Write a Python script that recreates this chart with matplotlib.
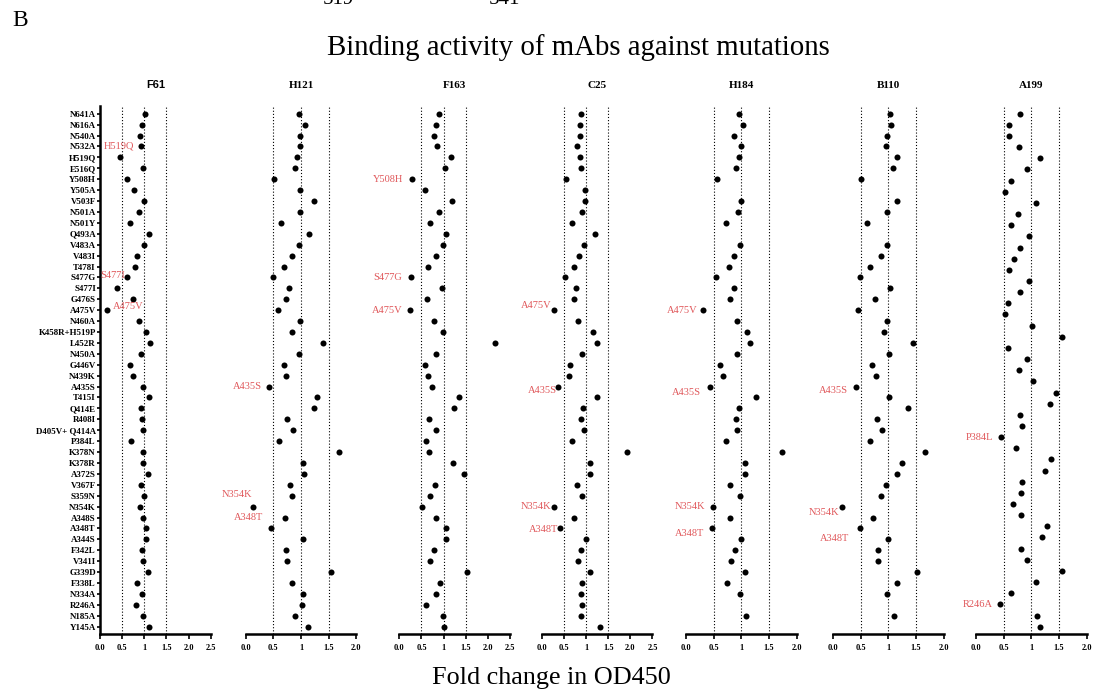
import numpy as np
import matplotlib
matplotlib.use("Agg")
import matplotlib.pyplot as plt

nan = np.nan

mutations = ["N641A", "N616A", "N540A", "N532A", "H519Q", "E516Q", "Y508H", "Y505A",
             "V503F", "N501A", "N501Y", "Q493A", "V483A", "V483I", "T478I", "S477G",
             "S477I", "G476S", "A475V", "N460A", "K458R+H519P", "L452R", "N450A", "G446V",
             "N439K", "A435S", "T415I", "Q414E", "R408I", "D405V+ Q414A", "P384L", "K378N",
             "K378R", "A372S", "V367F", "S359N", "N354K", "A348S", "A348T", "A344S",
             "F342L", "V341I", "G339D", "F338L", "N334A", "R246A", "N185A", "Y145A"]

# A199 was tested on one mutation fewer (evenly spaced on its own axis)
mutations_a199 = [m for m in mutations if m != "Y505A"]

f61 = [1.015, 0.955, 0.91, 0.925, 0.45, 0.96, 0.62, 0.77, 0.99, 0.87, 0.67, 1.10,
       0.985, 0.84, 0.80, 0.61, 0.38, 0.75, 0.16, 0.89, 1.05, 1.135, 0.92, 0.68,
       0.745, 0.98, 1.11, 0.925, 0.955, 0.98, 0.71, 0.96, 0.98, 1.075, 0.93, 1.0,
       0.91, 0.96, 1.04, 1.04, 0.94, 0.98, 1.09, 0.84, 0.95, 0.81, 0.98, 1.10]
h121 = [0.97, 1.08, 0.98, 0.99, 0.92, 0.89, 0.51, 0.99, 1.23, 0.99, 0.64, 1.14,
        0.97, 0.83, 0.69, 0.49, 0.78, 0.72, 0.58, 0.99, 0.83, 1.40, 0.96, 0.69,
        0.72, 0.42, 1.28, 1.24, 0.75, 0.86, 0.61, 1.68, 1.03, 1.06, 0.80, 0.83,
        0.14, 0.71, 0.45, 1.03, 0.73, 0.75, 1.55, 0.84, 1.04, 1.02, 0.89, 1.13]
f163 = [0.90, 0.84, 0.79, 0.85, 1.16, 1.04, 0.28, 0.58, 1.18, 0.89, 0.70, 1.05,
        0.98, 0.82, 0.64, 0.26, 0.97, 0.62, 0.24, 0.78, 0.99, 2.16, 0.82, 0.58,
        0.64, 0.73, 1.34, 1.24, 0.67, 0.84, 0.60, 0.67, 1.22, 1.45, 0.80, 0.70,
        0.52, 0.82, 1.05, 1.06, 0.78, 0.70, 1.52, 0.93, 0.84, 0.61, 0.98, 1.00]
c25 = [0.88, 0.86, 0.87, 0.80, 0.87, 0.89, 0.55, 0.97, 0.98, 0.91, 0.68, 1.20,
       0.95, 0.85, 0.73, 0.53, 0.77, 0.74, 0.27, 0.81, 1.16, 1.25, 0.90, 0.65,
       0.62, 0.37, 1.25, 0.94, 0.88, 0.95, 0.69, 1.92, 1.10, 1.10, 0.80, 0.92,
       0.27, 0.73, 0.42, 1.01, 0.88, 0.81, 1.09, 0.92, 0.89, 0.90, 0.89, 1.32]
h184 = [0.96, 1.03, 0.87, 0.99, 0.96, 0.91, 0.56, nan, 0.99, 0.94, 0.73, nan,
        0.97, 0.87, 0.77, 0.54, 0.86, 0.79, 0.31, 0.93, 1.11, 1.15, 0.93, 0.62,
        0.66, 0.44, 1.27, 0.95, 0.91, 0.93, 0.72, 1.73, 1.06, 1.06, 0.79, 0.97,
        0.48, 0.80, 0.47, 0.99, 0.89, 0.81, 1.06, 0.74, 0.97, nan, 1.08, nan]
b110 = [1.03, 1.05, 0.97, 0.96, 1.16, 1.08, 0.50, nan, 1.16, 0.98, 0.62, nan,
        0.98, 0.86, 0.67, 0.49, 1.03, 0.76, 0.45, 0.97, 0.92, 1.45, 1.02, 0.71,
        0.78, 0.41, 1.02, 1.35, 0.80, 0.88, 0.67, 1.66, 1.24, 1.16, 0.96, 0.87,
        0.16, 0.73, 0.49, 0.99, 0.82, 0.81, 1.51, 1.15, 0.98, nan, 1.11, nan]
a199 = [0.80, 0.60, 0.59, 0.77, 1.16, 0.92, 0.63, 0.52, 1.09, 0.76, 0.63, 0.95,
        0.79, 0.69, 0.60, 0.96, 0.80, 0.58, 0.52, 1.02, 1.56, 0.58, 0.93, 0.78,
        1.03, 1.45, 1.33, 0.80, 0.83, 0.45, 0.72, 1.35, 1.25, 0.83, 0.81, 0.67,
        0.82, 1.29, 1.20, 0.81, 0.93, 1.55, 1.09, 0.64, 0.43, 1.10, 1.16]

panel_names = ["F61", "H121", "F163", "C25", "H184", "B110", "A199"]
panel_values = [f61, h121, f163, c25, h184, b110, a199]
panel_cats = [mutations] * 6 + [mutations_a199]
panel_xmax = [2.5, 2.0, 2.5, 2.5, 2.0, 2.0, 2.0]
tick_vals_25 = [0.0, 0.5, 1.0, 1.5, 2.0, 2.5]
tick_text_25 = ["0.0", "0.5", "1", "1.5", "2.0", "2.5"]

# highlighted mutations: (name, dx, dy, ha) offsets from the dot (layout only)
highlights = {
    "F61": [("H519Q", -0.36, -1.0, "left"), ("S477I", -0.38, -1.2, "left"),
            ("A475V", 0.14, -0.3, "left")],
    "H121": [("A435S", -0.13, 0.0, "right"), ("N354K", -0.03, -1.1, "right"),
             ("A348T", -0.13, -1.0, "right")],
    "F163": [("Y508H", -0.19, 0.0, "right"), ("S477G", -0.19, 0.0, "right"),
             ("A475V", -0.17, 0.0, "right")],
    "C25": [("A475V", -0.05, -0.4, "right"), ("A435S", -0.03, 0.4, "right"),
            ("N354K", -0.05, 0.0, "right"), ("A348T", -0.04, 0.1, "right")],
    "H184": [("A475V", -0.11, 0.0, "right"), ("A435S", -0.17, 0.5, "right"),
             ("N354K", -0.13, 0.0, "right"), ("A348T", -0.15, 0.5, "right")],
    "B110": [("A435S", -0.14, 0.4, "right"), ("N354K", -0.04, 0.5, "right"),
             ("A348T", -0.19, 0.9, "right")],
    "A199": [("P384L", -0.14, 0.0, "right"), ("R246A", -0.12, 0.0, "right")],
}

W, H = 1094, 698
fig = plt.figure(figsize=(W / 100, H / 100), dpi=100)
fig.patch.set_facecolor("white")

SERIF = "Liberation Serif"
RED = "#E0575A"

lefts = [100, 245.7, 399.3, 541.7, 686, 833, 976]
width_px = 110.7
top_px, bot_px = 106, 634
first_px, last_px = 113.7, 626.7

for k, name in enumerate(panel_names):
    cats = panel_cats[k]
    vals = np.array(panel_values[k], dtype=float)
    n = len(cats)
    left = lefts[k]
    ax = fig.add_axes([left / W, 1 - bot_px / H, width_px / W, (bot_px - top_px) / H])
    step = (last_px - first_px) / (n - 1)
    ytop = (top_px - first_px) / step
    ybot = (bot_px - first_px) / step
    idx = np.arange(n)
    ax.set_ylim(ybot, ytop)
    ax.set_xlim(0, panel_xmax[k])
    for xv in (0.5, 1.0, 1.5):
        ax.axvline(xv, color="black", lw=0.8, ls=(0, (1, 1.8)), zorder=1)
    ax.scatter(vals, idx, s=19, color="black", zorder=3, linewidths=0)

    ax.spines["top"].set_visible(False)
    ax.spines["right"].set_visible(False)
    ax.spines["bottom"].set_linewidth(1.8)
    if k == 0:
        ax.spines["left"].set_linewidth(1.8)
        ax.set_yticks(idx)
        ax.set_yticklabels(cats, fontfamily=SERIF, fontweight="bold", fontsize=6.4)
        ax.tick_params(axis="y", length=2.5, width=1.2, pad=0.5)
    else:
        ax.spines["left"].set_visible(False)
        ax.set_yticks([])
    nt = 6 if panel_xmax[k] == 2.5 else 5
    ax.set_xticks(tick_vals_25[:nt])
    ax.set_xticklabels(tick_text_25[:nt], fontfamily=SERIF, fontweight="bold", fontsize=6)
    ax.tick_params(axis="x", length=3.5, width=1.2, pad=3.5)
    ax.patch.set_alpha(0)
    for lab in ax.get_xticklabels() + ax.get_yticklabels():
        lab.set_clip_on(False)

    tfam = "Liberation Sans" if k == 0 else SERIF
    ax.set_title(name, fontfamily=tfam, fontweight="bold", fontsize=8, pad=13)

    for (mname, dx, dy, ha) in highlights[name]:
        i = cats.index(mname)
        ax.text(vals[i] + dx, i + dy, mname, color=RED, fontfamily=SERIF,
                fontsize=7.5, ha=ha, va="center", clip_on=False, zorder=4)

fig.text(578 / W, 1 - 48 / H, "Binding activity of mAbs against mutations",
         fontfamily=SERIF, fontsize=20.8, ha="center", va="center")
fig.text(551 / W, 1 - 678 / H, "Fold change in OD450",
         fontfamily=SERIF, fontsize=18.8, ha="center", va="center")
fig.text(12 / W, 1 - 21 / H, "B", fontfamily=SERIF, fontsize=17, ha="left", va="center")
fig.text(338 / W, 1 - 0 / H, "519", fontfamily=SERIF, fontsize=15, ha="center", va="center")
fig.text(504 / W, 1 - 0 / H, "541", fontfamily=SERIF, fontsize=15, ha="center", va="center")

fig.savefig("out.png", dpi=100, facecolor="white")
